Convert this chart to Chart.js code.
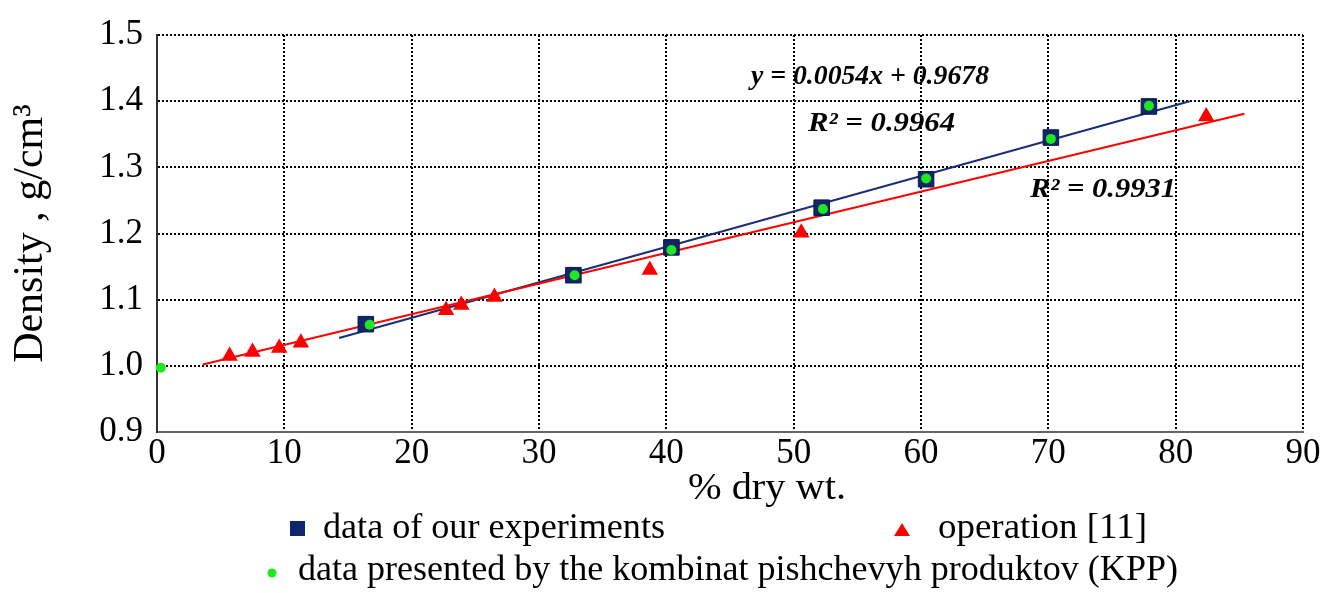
<!DOCTYPE html>
<html>
<head>
<meta charset="utf-8">
<script src="https://cdn.jsdelivr.net/npm/chart.js@4.4.1/dist/chart.umd.min.js"></script>
<style>
html,body{margin:0;padding:0;background:#fff;}
canvas{display:block;}
</style>
</head>
<body>
<canvas id="c" width="1338" height="593"></canvas>
<script>
// ---- data ----
const expX = [16.4, 32.7, 40.4, 52.2, 60.4, 70.2, 77.9];
const expY = [1.063, 1.137, 1.179, 1.239, 1.282, 1.345, 1.392];
const opX  = [5.7, 7.5, 9.6, 11.3, 22.7, 23.9, 26.5, 38.7, 50.6, 82.4];
const opY  = [1.015, 1.021, 1.027, 1.035, 1.084, 1.092, 1.104, 1.145, 1.201, 1.377];
const kppX = [0.3, 16.7, 32.8, 40.4, 52.3, 60.4, 70.2, 77.9];
const kppY = [0.997, 1.062, 1.137, 1.175, 1.237, 1.283, 1.343, 1.393];
const expFitX = [14.3, 81.1];
const expFitY = [1.042, 1.400];
const opFitX = [3.6, 85.4];
const opFitY = [1.002, 1.381];
const xTickLabels = ['0','10','20','30','40','50','60','70','80','90'];
const yTickLabels = ['0.9','1.0','1.1','1.2','1.3','1.4','1.5'];
const seriesNames = ['data of our experiments', 'operation [11]', 'data presented by the kombinat pishchevyh produktov (KPP)'];
const xTitle = '% dry wt.';
const yTitle = 'Density , g/cm³';
const eqText = 'y = 0.0054x + 0.9678';
const r2Exp = 'R² = 0.9964';
const r2Op = 'R² = 0.9931';

const pts = (xs, ys) => xs.map((x, i) => ({x: x, y: ys[i]}));

const NAVY = '#10256a';
const RED = '#ff0000';
const GREEN = '#1ee81e';
const FONT = '"Liberation Serif", "Times New Roman", serif';

function stretchText(ctx, text, x, y, font, width) {
  ctx.save();
  ctx.font = font;
  ctx.textAlign = 'left';
  ctx.textBaseline = 'alphabetic';
  const w = ctx.measureText(text).width;
  ctx.translate(x, y);
  ctx.scale(width / w, 1);
  ctx.fillStyle = '#000';
  ctx.fillText(text, 0, 0);
  ctx.restore();
}

const overlay = {
  id: 'overlay',
  afterDraw(chart) {
    const ctx = chart.ctx;
    // x-axis title
    stretchText(ctx, xTitle, 688, 499, '37px ' + FONT, 158);
    // annotations
    const bi = 'italic bold 27px ' + FONT;
    stretchText(ctx, eqText, 751, 84, bi, 238);
    stretchText(ctx, r2Exp, 808, 131, bi, 147);
    stretchText(ctx, r2Op, 1030, 197, bi, 146);
    // legend
    ctx.save();
    ctx.fillStyle = NAVY;
    ctx.fillRect(290, 521, 15, 15);
    ctx.fillStyle = RED;
    ctx.beginPath();
    ctx.moveTo(902, 523); ctx.lineTo(910, 536); ctx.lineTo(894, 536); ctx.closePath();
    ctx.fill();
    ctx.fillStyle = GREEN;
    ctx.beginPath();
    ctx.arc(272, 573, 4.5, 0, Math.PI * 2);
    ctx.fill();
    ctx.restore();
    const lf = '35px ' + FONT;
    stretchText(ctx, seriesNames[0], 323, 538, lf, 342);
    stretchText(ctx, seriesNames[1], 938, 538, lf, 209);
    stretchText(ctx, seriesNames[2], 298, 580, lf, 880);
  }
};

new Chart(document.getElementById('c'), {
  type: 'scatter',
  data: {
    datasets: [
      {
        label: seriesNames[2],
        data: pts(kppX, kppY),
        pointStyle: 'circle',
        pointRadius: 5,
        backgroundColor: GREEN,
        borderWidth: 0,
        clip: false,
        order: 0
      },
      {
        label: seriesNames[1],
        data: pts(opX, opY),
        pointStyle: 'triangle',
        pointRadius: 9.5,
        backgroundColor: RED,
        borderColor: RED,
        borderWidth: 0,
        order: 1
      },
      {
        label: seriesNames[0],
        data: pts(expX, expY),
        pointStyle: 'rect',
        pointRadius: 11,
        backgroundColor: NAVY,
        borderColor: '#0a1a4a',
        borderWidth: 1,
        order: 2
      },
      {
        label: 'fit op',
        data: pts(opFitX, opFitY),
        showLine: true,
        pointRadius: 0,
        borderColor: RED,
        borderWidth: 2,
        order: 3
      },
      {
        label: 'fit exp',
        data: pts(expFitX, expFitY),
        showLine: true,
        pointRadius: 0,
        borderColor: '#1a2d78',
        borderWidth: 2,
        order: 4
      }
    ]
  },
  options: {
    responsive: false,
    animation: false,
    devicePixelRatio: 1,
    layout: {padding: {left: 0, right: 35, top: 31, bottom: 0}},
    plugins: {legend: {display: false}, tooltip: {enabled: false}},
    scales: {
      x: {
        type: 'linear',
        min: 0, max: 90,
        ticks: {
          stepSize: 10,
          padding: 1,
          color: '#000',
          font: {family: FONT, size: 35},
          maxRotation: 0,
          callback: (v, i) => xTickLabels[i] !== undefined ? xTickLabels[i] : v
        },
        grid: {color: '#000', lineWidth: 2, drawTicks: false},
        border: {display: true, color: '#666', width: 2, dash: [2, 2]},
        afterFit: (s) => { s.height = 161; }
      },
      y: {
        type: 'linear',
        min: 0.9, max: 1.5,
        ticks: {
          stepSize: 0.1,
          padding: 14,
          color: '#000',
          font: {family: FONT, size: 35},
          callback: (v, i) => yTickLabels[i] !== undefined ? yTickLabels[i] : v
        },
        grid: {color: '#000', lineWidth: 2, drawTicks: false},
        border: {display: true, color: '#333', width: 2, dash: [2, 2]},
        title: {
          display: true,
          text: yTitle,
          color: '#000',
          font: {family: FONT, size: 42},
          padding: {top: 6, bottom: 0}
        },
        afterFit: (s) => { s.width = 157; }
      }
    }
  },
  plugins: [overlay]
});
</script>
</body>
</html>
